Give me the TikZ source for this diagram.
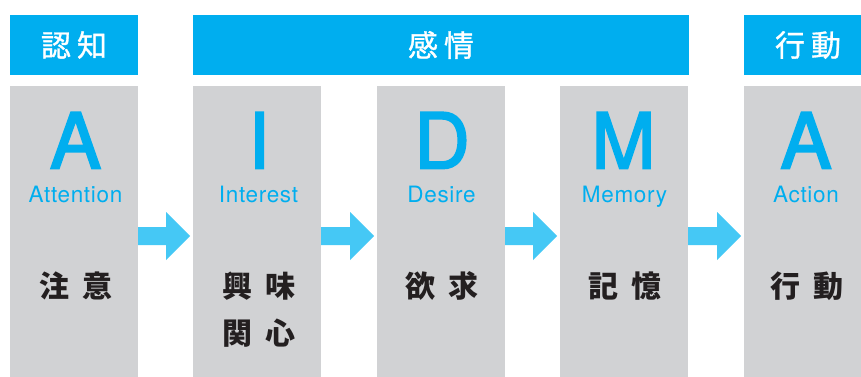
\documentclass[tikz,border=0pt]{standalone}
\usepackage{fontspec}
\setmainfont{TeX Gyre Heros}
\newfontfamily\wordfont[LetterSpace=3]{TeX Gyre Heros}
\newfontfamily\bigfont[FakeBold=2.5]{TeX Gyre Heros}
\newfontfamily\cjk{Noto Sans CJK JP}
\newfontfamily\cjkhdr[FakeBold=1]{Noto Sans CJK JP}
\usetikzlibrary{calc}
\definecolor{hdrblue}{HTML}{00AEEF}
\definecolor{colgrey}{HTML}{D1D2D4}
\definecolor{arrowc}{HTML}{45C8F5}
\definecolor{darktxt}{HTML}{231F20}
\tikzset{
  hdr/.style={fill=hdrblue, draw=none, inner sep=0pt, outer sep=0pt, minimum height=60pt,
    text=white, font=\cjkhdr\fontsize{30}{30}\selectfont},
  col/.style={fill=colgrey, draw=none, inner sep=0pt, outer sep=0pt, minimum width=128pt, minimum height=291pt},
  bigletter/.style={anchor=base, inner sep=0pt, text=hdrblue, font=\bigfont\fontsize{77}{77}\selectfont},
  enword/.style={anchor=base, inner sep=0pt, text=hdrblue, font=\wordfont\fontsize{22.5}{22.5}\selectfont},
  jptxt/.style={anchor=center, inner sep=0pt, text=darktxt, font=\cjk\bfseries\fontsize{30}{30}\selectfont},
  flowarrow/.style={fill=arrowc, draw=none}
}
\newcommand\hg{\hspace{6pt}}
\newcommand\jg{\hspace{13pt}}
\newcommand\flowarr[2]{%
  \fill[flowarrow] ($(#1.east)+(0,-4.5)$) -- ($(#2.west)+(-27,-4.5)$) -- ($(#2.west)+(-27,-19.5)$)
    -- ($(#2.west)+(-3,4.5)$) -- ($(#2.west)+(-27,28.5)$) -- ($(#2.west)+(-27,13.5)$)
    -- ($(#1.east)+(0,13.5)$) -- cycle;}
\begin{document}
\begin{tikzpicture}[x=1pt,y=-1pt]
\clip (0,0) rectangle (861,377);
\fill[white] (0,0) rectangle (861,377);
% headers
\node[hdr, minimum width=128pt] (h1) at (74,45) {認\hg 知};
\node[hdr, minimum width=496pt] (h2) at (441,45) {感\hg 情};
\node[hdr, minimum width=128pt] (h3) at (808,45) {行\hg 動};
% columns
\node[col] (c1) at (74,231.5) {};
\node[col] (c2) at (257,231.5) {};
\node[col] (c3) at (441,231.5) {};
\node[col] (c4) at (624,231.5) {};
\node[col] (c5) at (808,231.5) {};
% letters
\node[bigletter] (l1) at (75.5,168.5) {A};
\node[bigletter] (l2) at (259,168.5) {I};
\node[bigletter] (l3) at (442,168.5) {D};
\node[bigletter] (l4) at (623.5,168.5) {M};
\node[bigletter] (l5) at (806,168.5) {A};
% words
\node[enword] (w1) at (75.5,202.5) {Attention};
\node[enword] (w2) at (258.5,202.5) {Interest};
\node[enword] (w3) at (441.5,202.5) {Desire};
\node[enword] (w4) at (624.5,202.5) {Memory};
\node[enword] (w5) at (806,202.5) {Action};
% japanese
\node[jptxt] (j1) at (76,286) {注\jg 意};
\node[jptxt] (j2a) at (259,286) {興\jg 味};
\node[jptxt] (j2b) at (259,333) {関\jg 心};
\node[jptxt] (j3) at (442,286) {欲\jg 求};
\node[jptxt] (j4) at (625,286) {記\jg 憶};
\node[jptxt] (j5) at (807,286) {行\jg 動};
% arrows
\flowarr{c1}{c2}
\flowarr{c2}{c3}
\flowarr{c3}{c4}
\flowarr{c4}{c5}
\end{tikzpicture}
\end{document}
